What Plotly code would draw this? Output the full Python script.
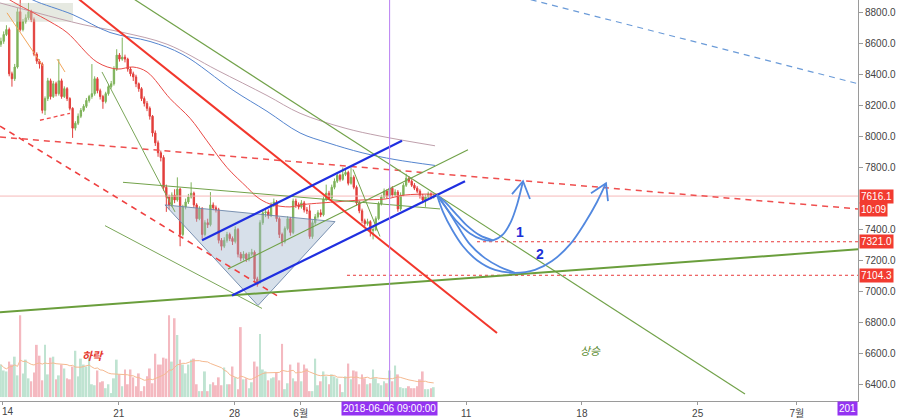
import pandas as pd
import plotly.graph_objects as go

BASE = pd.Timestamp("2018-05-14")


def at(days):
    return [BASE + pd.Timedelta(days=d) for d in days]


# ---------------- candle data (4h) ----------------
CANDLE_START = "2018-05-13 21:00"
FIRST_OPEN = 8597
CLOSES = [8616, 8660, 8692, 8406, 8374, 8450, 8807, 8692, 8743, 8768,
          8807, 8756, 8533, 8488, 8469, 8170, 8246, 8361, 8259, 8342,
          8278, 8361, 8259, 8310, 8246, 8183, 8055, 8087, 8132, 8170,
          8196, 8234, 8259, 8278, 8374, 8297, 8259, 8227, 8278, 8323,
          8342, 8437, 8527, 8501, 8514, 8501, 8437, 8406, 8386, 8342,
          8310, 8246, 8215, 8183, 8132, 8024, 7960, 7896, 7865, 7673,
          7610, 7559, 7623, 7591, 7661, 7368, 7546, 7578, 7610, 7635,
          7559, 7470, 7533, 7368, 7444, 7431, 7559, 7540, 7527, 7330,
          7292, 7330, 7368, 7342, 7323, 7400, 7241, 7215, 7241, 7209,
          7241, 7253, 7081, 7062, 7444, 7508, 7514, 7489, 7559, 7578,
          7470, 7368, 7323, 7406, 7470, 7381, 7584, 7559, 7546, 7572,
          7527, 7521, 7355, 7444, 7482, 7508, 7495, 7597, 7635, 7603,
          7673, 7712, 7750, 7724, 7756, 7769, 7699, 7737, 7673, 7572,
          7521, 7457, 7438, 7451, 7393, 7400, 7470, 7565, 7610, 7648,
          7616, 7667, 7623, 7642, 7533, 7623, 7686, 7731, 7712, 7686,
          7667, 7648, 7616, 7591, 7610, 7629, 7610, 7616.1]
HIGHS = [8640, 8680, 8720, 8705, 8420, 8470, 8830, 8883, 8760, 8790,
         8864, 8820, 8770, 8545, 8500, 8480, 8260, 8380, 8375, 8360,
         8355, 8501, 8375, 8325, 8320, 8255, 8190, 8100, 8150, 8185,
         8210, 8250, 8270, 8469, 8390, 8385, 8310, 8270, 8290, 8340,
         8360, 8455, 8565, 8540, 8640, 8530, 8510, 8450, 8420, 8400,
         8350, 8320, 8260, 8230, 8195, 8140, 8040, 7975, 7910, 7880,
         7690, 7625, 7640, 7660, 7737, 7670, 7560, 7600, 7630, 7705,
         7645, 7570, 7550, 7545, 7460, 7470, 7642, 7575, 7555, 7540,
         7345, 7350, 7385, 7380, 7355, 7420, 7410, 7255, 7260, 7250,
         7255, 7275, 7265, 7095, 7460, 7525, 7540, 7530, 7575, 7600,
         7590, 7480, 7380, 7420, 7485, 7480, 7600, 7600, 7575, 7590,
         7585, 7545, 7560, 7460, 7500, 7525, 7530, 7615, 7690, 7650,
         7690, 7730, 7770, 7760, 7801, 7790, 7780, 7801, 7750, 7685,
         7585, 7535, 7470, 7470, 7460, 7420, 7485, 7580, 7625, 7665,
         7660, 7685, 7680, 7660, 7655, 7640, 7700, 7760, 7745, 7725,
         7700, 7680, 7660, 7630, 7625, 7645, 7640, 7630]
LOWS = [8580, 8600, 8650, 8390, 8323, 8360, 8440, 8680, 8680, 8730,
        8755, 8740, 8520, 8470, 8440, 8150, 8140, 8230, 8240, 8250,
        8260, 8265, 8245, 8250, 8230, 8170, 7992, 8040, 8075, 8120,
        8160, 8185, 8220, 8245, 8265, 8280, 8240, 8180, 8215, 8265,
        8310, 8330, 8425, 8485, 8490, 8480, 8420, 8390, 8360, 8320,
        8290, 8230, 8195, 8165, 8110, 8000, 7940, 7870, 7840, 7650,
        7514, 7530, 7545, 7570, 7580, 7292, 7355, 7530, 7565, 7600,
        7540, 7450, 7460, 7340, 7355, 7410, 7420, 7525, 7510, 7310,
        7265, 7280, 7315, 7325, 7300, 7310, 7220, 7195, 7200, 7190,
        7195, 7230, 7060, 7030, 7050, 7430, 7480, 7470, 7480, 7545,
        7450, 7345, 7292, 7310, 7395, 7360, 7370, 7540, 7530, 7535,
        7510, 7500, 7340, 7340, 7430, 7470, 7480, 7485, 7585, 7590,
        7595, 7660, 7700, 7710, 7715, 7745, 7685, 7690, 7660, 7555,
        7505, 7440, 7420, 7425, 7355, 7336, 7390, 7460, 7555, 7600,
        7600, 7605, 7610, 7615, 7515, 7520, 7615, 7675, 7700, 7675,
        7655, 7635, 7600, 7570, 7546, 7595, 7595, 7600]
VOLUMES = [33, 27, 26, 36, 33, 41, 22, 83, 24, 38,
           19, 16, 25, 53, 42, 17, 53, 23, 40, 41,
           18, 22, 33, 29, 19, 18, 31, 47, 21, 39,
           33, 31, 40, 13, 12, 27, 15, 16, 9, 13,
           4, 19, 38, 23, 11, 28, 13, 28, 20, 11,
           24, 6, 11, 21, 29, 14, 44, 33, 33, 40,
           39, 83, 36, 80, 63, 38, 33, 24, 33, 38,
           39, 13, 6, 6, 26, 6, 13, 15, 12, 20,
           12, 30, 13, 13, 31, 20, 8, 71, 18, 19,
           9, 15, 36, 31, 64, 28, 26, 17, 19, 20,
           25, 17, 54, 8, 14, 33, 19, 16, 35, 16,
           33, 29, 6, 6, 39, 12, 16, 26, 21, 13,
           23, 21, 19, 13, 5, 21, 34, 18, 27, 26,
           13, 23, 19, 13, 14, 28, 19, 14, 12, 16,
           14, 27, 16, 32, 23, 10, 9, 9, 11, 9,
           9, 11, 18, 26, 8, 8, 9, 10]

# ---------------- moving averages (days from May 14, price) ----------------
MA_RED_DAYS = [-0.18, 0.42, 2.84, 3.87, 5.68, 6.89, 7.86, 8.71, 10.10, 11.31, 12.33,
               13.54, 14.75, 15.36, 16.14, 17.35, 17.96, 20.07, 21.71, 23.10, 24.31, 26.30]
MA_RED_PRICE = [8930, 8883, 8743, 8673, 8482, 8437, 8450, 8418, 8246, 8119, 7973,
                7801, 7673, 7610, 7565, 7546, 7559, 7578, 7591, 7597, 7623, 7629]
MA_BLUE_DAYS = [1.03, 1.81, 4.23, 6.47, 8.89, 10.88, 13.91, 15.96, 17.96, 19.65, 21.71, 23.70, 26.12]
MA_BLUE_PRICE = [8934, 8883, 8788, 8673, 8615, 8530, 8300, 8164, 8024, 7960, 7896, 7852, 7814]
MA_MAUVE_DAYS = [-0.18, 2.06, 4.84, 7.26, 9.92, 12.94, 15.96, 17.96, 20.68, 22.79, 26.12]
MA_MAUVE_PRICE = [8864, 8800, 8724, 8673, 8597, 8430, 8266, 8151, 8055, 8004, 7941]

# ---------------- drawings (days from May 14, price) ----------------
RED_TREND_DAYS, RED_TREND_PRICE = [4.051, 29.867], [8934, 6731]
GREEN_TOP_DAYS, GREEN_TOP_PRICE = [7.074, 44.861], [8947, 6337]
GREEN_STEEP_DAYS, GREEN_STEEP_PRICE = [5.985, 10.399], [8418, 7514]
GREEN_LOW_DAYS, GREEN_LOW_PRICE = [6.167, 15.659], [7425, 6890]
GREEN_SUPPORT_DAYS, GREEN_SUPPORT_PRICE = [-0.181, 51.693], [6865, 7272]
GREEN_FLAT_DAYS, GREEN_FLAT_PRICE = [7.255, 26.421], [7705, 7533]
GREEN_MID_DAYS, GREEN_MID_PRICE = [13.603, 28.114], [7145, 7915]
GREEN_SHORT_DAYS, GREEN_SHORT_PRICE = [21.161, 22.793], [7788, 7355]
CHANNEL_UP_DAYS, CHANNEL_UP_PRICE = [12.031, 24.123], [7330, 7973]
CHANNEL_LO_DAYS, CHANNEL_LO_PRICE = [13.845, 27.932], [6973, 7712]
DASH_LONG_DAYS, DASH_LONG_PRICE = [-0.181, 51.693], [7998, 7533]
DASH_STEEP_DAYS, DASH_STEEP_PRICE = [-0.181, 16.566], [8068, 6973]
DASH_SMALL_DAYS, DASH_SMALL_PRICE = [2.237, 4.051], [8106, 8151]
BLUE_DASH_DAYS, BLUE_DASH_PRICE = [31.26, 51.693], [8903, 8342]
ORANGE1_DAYS, ORANGE1_PRICE = [0.242, 2.418], [8800, 8456]
ORANGE2_DAYS, ORANGE2_PRICE = [3.265, 3.748], [8501, 8418]
BOX_DAYS = [-0.181, 4.232, 4.232, -0.181, -0.181]
BOX_PRICE = [8864, 8864, 8743, 8743, 8864]
TRI_DAYS = [9.794, 20.073, 15.417, 9.794]
TRI_PRICE = [7559, 7451, 6909, 7559]

LAST_PRICE = 7616.1
LEVEL_1 = 7321.0
LEVEL_2 = 7104.3
LEVEL_1_START = 28.658
LEVEL_2_START = 20.798
X_LEFT, X_RIGHT = -0.181, 51.693
CROSS_TIME = "2018-06-06 09:00"

CURVE1A_DAYS = [26.239, 26.844, 27.509, 28.235, 28.960, 29.625, 30.230, 30.713, 31.076, 31.439]
CURVE1A_PRICE = [7623, 7533, 7444, 7374, 7336, 7330, 7368, 7451, 7559, 7712]
CURVE1B_DAYS = [26.239, 26.723, 27.328, 28.054, 28.839, 29.625]
CURVE1B_PRICE = [7623, 7578, 7508, 7425, 7362, 7330]
CURVE2A_DAYS = [26.239, 26.602, 27.146, 27.811, 28.658, 29.746, 30.955, 32.164, 33.192, 34.280, 35.187, 35.913, 36.457]
CURVE2A_PRICE = [7623, 7514, 7400, 7292, 7202, 7139, 7120, 7139, 7196, 7304, 7444, 7578, 7699]
CURVE2B_DAYS = [26.239, 26.844, 27.509, 28.235, 29.141, 30.048, 30.955]
CURVE2B_PRICE = [7623, 7533, 7419, 7304, 7215, 7158, 7120]
HEAD1_DAYS, HEAD1_PRICE = [30.774, 31.439, 31.862], [7629, 7712, 7597]
HEAD2_DAYS, HEAD2_PRICE = [35.550, 36.457, 36.578], [7635, 7699, 7584]

TICK_DATES = ["2018-05-14", "2018-05-21", "2018-05-28", "2018-06-01",
              "2018-06-11", "2018-06-18", "2018-06-25", "2018-07-01"]
TICK_TEXT = ["", "21", "28", "6월", "11", "18", "25", "7월"]
FIRST_TICK_TEXT = "14"
PRICE_TICKS = [6400, 6600, 6800, 7000, 7200, 7400, 7800, 8000, 8200, 8400, 8600, 8800]

# ---------------- build ----------------
times = pd.date_range(CANDLE_START, periods=len(CLOSES), freq="4h")
opens = [FIRST_OPEN] + CLOSES[:-1]
up = [c >= o for o, c in zip(opens, CLOSES)]
vol_colors = ["#bfe3d1" if u else "#f4b9c0" for u in up]
vol_ma = pd.Series(VOLUMES).rolling(20, min_periods=1).mean()

fig = go.Figure()

fig.add_trace(go.Bar(x=times, y=VOLUMES, marker=dict(color=vol_colors, line=dict(width=0)),
                     yaxis="y", hoverinfo="skip", showlegend=False))
fig.add_trace(go.Scatter(x=times, y=vol_ma, mode="lines", line=dict(color="#f5b990", width=1),
                         yaxis="y", hoverinfo="skip", showlegend=False))


def line(days, price, color, width=1, dash=None, shape="linear", fill=None, fillcolor=None):
    fig.add_trace(go.Scatter(x=at(days), y=price, mode="lines", yaxis="y2",
                             line=dict(color=color, width=width, dash=dash, shape=shape),
                             fill=fill, fillcolor=fillcolor,
                             hoverinfo="skip", showlegend=False))


# grey box behind candles
line(BOX_DAYS, BOX_PRICE, "rgba(0,0,0,0)", 0, fill="toself", fillcolor="rgba(200,206,188,0.45)")

fig.add_trace(go.Candlestick(x=times, open=opens, high=HIGHS, low=LOWS, close=CLOSES,
                             increasing=dict(line=dict(color="#7fb35a", width=1), fillcolor="#7fb35a"),
                             decreasing=dict(line=dict(color="#e23f3c", width=1), fillcolor="#e23f3c"),
                             whiskerwidth=0, yaxis="y2", hoverinfo="skip", showlegend=False))

# horizontal levels
line([X_LEFT, X_RIGHT], [LAST_PRICE, LAST_PRICE], "#f6b8b8", 1)
line([LEVEL_1_START, X_RIGHT], [LEVEL_1, LEVEL_1], "#e8393a", 1, dash="dot")
line([LEVEL_2_START, X_RIGHT], [LEVEL_2, LEVEL_2], "#e8393a", 1, dash="dot")

# moving averages
line(MA_MAUVE_DAYS, MA_MAUVE_PRICE, "#bfa0ac", 1, shape="spline")
line(MA_BLUE_DAYS, MA_BLUE_PRICE, "#5585cf", 1, shape="spline")
line(MA_RED_DAYS, MA_RED_PRICE, "#ea4a46", 1, shape="spline")

# triangle
line(TRI_DAYS, TRI_PRICE, "rgba(110,135,170,0.9)", 1, fill="toself", fillcolor="rgba(160,182,205,0.42)")

# trendlines
line(ORANGE1_DAYS, ORANGE1_PRICE, "#f2a65a", 1)
line(ORANGE2_DAYS, ORANGE2_PRICE, "#f2a65a", 1)
line(DASH_SMALL_DAYS, DASH_SMALL_PRICE, "#ef4a4a", 1.3, dash="4px,3px")
line(DASH_LONG_DAYS, DASH_LONG_PRICE, "#ef4f4f", 1.5, dash="6px,5px")
line(DASH_STEEP_DAYS, DASH_STEEP_PRICE, "#ef4040", 1.6, dash="6px,5px")
line(BLUE_DASH_DAYS, BLUE_DASH_PRICE, "#6b9bd8", 1.2, dash="6px,5px")
line(GREEN_TOP_DAYS, GREEN_TOP_PRICE, "#72a24a", 1.2)
line(GREEN_STEEP_DAYS, GREEN_STEEP_PRICE, "#7aa658", 1)
line(GREEN_LOW_DAYS, GREEN_LOW_PRICE, "#7aa658", 1)
line(GREEN_FLAT_DAYS, GREEN_FLAT_PRICE, "#72a24a", 1)
line(GREEN_MID_DAYS, GREEN_MID_PRICE, "#72a24a", 1.2)
line(GREEN_SHORT_DAYS, GREEN_SHORT_PRICE, "#72a24a", 1)
line(GREEN_SUPPORT_DAYS, GREEN_SUPPORT_PRICE, "#6a9e3c", 2)
line(RED_TREND_DAYS, RED_TREND_PRICE, "#f2372c", 2)
line(CHANNEL_UP_DAYS, CHANNEL_UP_PRICE, "#1f2fe0", 2.2)
line(CHANNEL_LO_DAYS, CHANNEL_LO_PRICE, "#1f2fe0", 2.2)

# forecast arrows
ARROW = "#5288df"
line(CURVE1A_DAYS, CURVE1A_PRICE, ARROW, 1.8, shape="spline")
line(CURVE1B_DAYS, CURVE1B_PRICE, ARROW, 1.8, shape="spline")
line(CURVE2A_DAYS, CURVE2A_PRICE, ARROW, 1.8, shape="spline")
line(CURVE2B_DAYS, CURVE2B_PRICE, ARROW, 1.8, shape="spline")
line(HEAD1_DAYS, HEAD1_PRICE, ARROW, 1.8)
line(HEAD2_DAYS, HEAD2_PRICE, ARROW, 1.8)

FONT = "Arial, 'Liberation Sans', 'Noto Sans CJK KR', sans-serif"

annotations = [
    dict(x=at([31.258])[0], y=7387, xref="x", yref="y2", text="<b>1</b>", showarrow=False,
         font=dict(color="#1c2fd6", size=14, family=FONT)),
    dict(x=at([32.467])[0], y=7241, xref="x", yref="y2", text="<b>2</b>", showarrow=False,
         font=dict(color="#1c2fd6", size=14, family=FONT)),
    dict(x=at([5.441])[0], y=6591, xref="x", yref="y2", text="<i><b>하락</b></i>", showarrow=False,
         font=dict(color="#e5392e", size=11, family="'Noto Sans CJK KR', sans-serif")),
    dict(x=at([35.49])[0], y=6623, xref="x", yref="y2", text="<i>상승</i>", showarrow=False,
         font=dict(color="#5a8a30", size=11, family="'Noto Sans CJK KR', sans-serif")),
    dict(x=0, xref="paper", y=0, yref="paper", yanchor="top", xanchor="left", yshift=-3,
         text=FIRST_TICK_TEXT, showarrow=False, font=dict(size=10, color="#444", family=FONT)),
]
for val, txt, shift in [(LAST_PRICE, "7616.1", 0), (LAST_PRICE, "10:09", -13),
                        (LEVEL_1, "7321.0", 0), (LEVEL_2, "7104.3", 0)]:
    annotations.append(dict(x=1, xref="paper", y=val, yref="y2", yshift=shift, xanchor="left",
                            xshift=1, text=txt, showarrow=False, bgcolor="#f23b30", borderpad=1,
                            font=dict(color="white", size=10, family=FONT)))
annotations.append(dict(x=pd.Timestamp(CROSS_TIME), xref="x", y=0, yref="paper", yanchor="top",
                        text="2018-06-06 09:00:00", showarrow=False, bgcolor="#9433f2",
                        borderpad=1, font=dict(color="white", size=10, family=FONT)))
annotations.append(dict(x=1, xref="paper", y=0, yref="paper", yanchor="top", xanchor="right",
                        text="201", showarrow=False, bgcolor="#9433f2", borderpad=1,
                        font=dict(color="white", size=10, family=FONT)))

fig.update_layout(
    width=900, height=419,
    margin=dict(l=0, r=42, t=0, b=12),
    paper_bgcolor="white", plot_bgcolor="white",
    bargap=0.3,
    xaxis=dict(type="date", range=[BASE + pd.Timedelta(days=X_LEFT), BASE + pd.Timedelta(days=X_RIGHT)],
               tickvals=TICK_DATES, ticktext=TICK_TEXT, showgrid=False, zeroline=False,
               showline=True, linecolor="#9a9a9a", ticks="outside", ticklen=3, tickcolor="#9a9a9a",
               tickfont=dict(size=10, color="#444", family=FONT), rangeslider=dict(visible=False),
               fixedrange=True),
    yaxis=dict(range=[-4, 403], visible=False, fixedrange=True),
    yaxis2=dict(overlaying="y", side="right", anchor="x", range=[6292, 8883],
                tickvals=PRICE_TICKS, tickformat=".1f", showgrid=False, zeroline=False,
                showline=True, linecolor="#9a9a9a", ticks="outside", ticklen=4, tickcolor="#9a9a9a",
                tickfont=dict(size=10, color="#444", family=FONT), fixedrange=True),
    shapes=[dict(type="line", xref="x", yref="paper", x0=pd.Timestamp(CROSS_TIME),
                 x1=pd.Timestamp(CROSS_TIME), y0=0, y1=1, line=dict(color="#b97ef2", width=1))],
    annotations=annotations,
    showlegend=False,
)

fig.write_html("out.html")
